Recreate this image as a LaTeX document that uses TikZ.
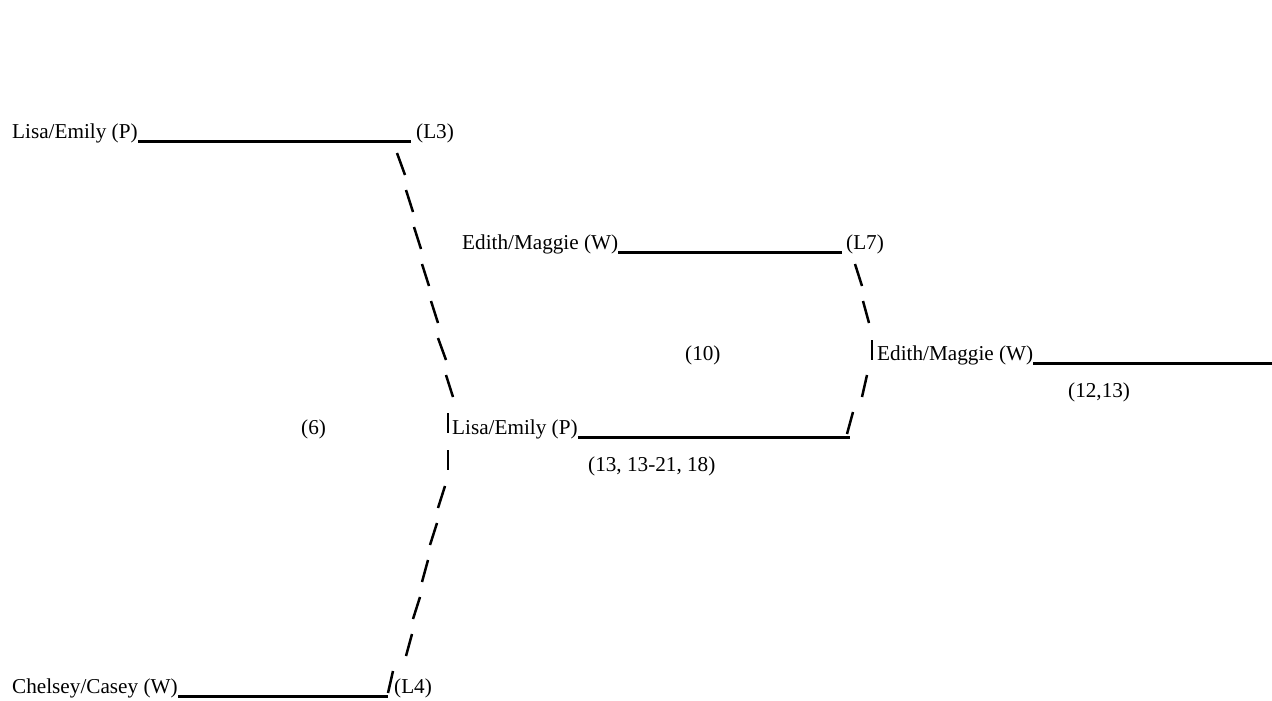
\documentclass[tikz,border=0pt]{standalone}
\usepackage{fontspec}
\setmainfont{Liberation Serif}
\begin{document}
\begin{tikzpicture}[x=1pt,y=-1pt,
  lbl/.style={anchor=base west,inner sep=0pt,font=\fontsize{21.2}{25}\selectfont},
  uline/.style={line width=3pt},
  stroke/.style={line width=2.5pt}]
\useasboundingbox (0,0) rectangle (1272,701);
% texts
\node[lbl] (t0) at (12,138.5) {Lisa/Emily (P)};
\node[lbl] (l3) at (416,138.5) {(L3)};
\node[lbl] (t3) at (462,249.5) {Edith/Maggie (W)};
\node[lbl] (l7) at (846,249.5) {(L7)};
\node[lbl] (t6) at (877,360.5) {Edith/Maggie (W)};
\node[lbl] (s10) at (685,360.5) {(10)};
\node[lbl] (s1213) at (1068,397.5) {(12,13)};
\node[lbl] (s6) at (301,434.5) {(6)};
\node[lbl] (t8) at (452,434.5) {Lisa/Emily (P)};
\node[lbl] (s13) at (588,471.5) {(13, 13-21, 18)};
\node[lbl] (t15) at (12,693.5) {Chelsey/Casey (W)};
\node[lbl] (l4) at (394,693.5) {(L4)};
% underline ends
\coordinate (u0) at (411,141);
\coordinate (u3) at (842,252);
\coordinate (u6) at (1272,363);
\coordinate (u8) at (850,437);
\coordinate (u15) at (388,696);
\draw[uline] ([yshift=-2.5pt]t0.base east) -- (u0);
\draw[uline] ([yshift=-2.5pt]t3.base east) -- (u3);
\draw[uline] ([yshift=-2.5pt]t6.base east) -- (u6);
\draw[uline] ([yshift=-2.5pt]t8.base east) -- (u8);
\draw[uline] ([yshift=-2.5pt]t15.base east) -- (u15);
% left chain
\draw[stroke] (397,153) -- (405,175);
\draw[stroke] (406,190) -- (413,212);
\draw[stroke] (414,227) -- (421,249);
\draw[stroke] (422,264) -- (429,286);
\draw[stroke] (431,301) -- (438,323);
\draw[stroke] (438,338) -- (446,360);
\draw[stroke] (446,375) -- (453,397);
\draw[stroke] (448,413) -- (448,433);
\draw[stroke] (448,450) -- (448,470);
\draw[stroke] (445,486) -- (438,508);
\draw[stroke] (437,523) -- (430,545);
\draw[stroke] (428,560) -- (422,582);
\draw[stroke] (420,597) -- (413,619);
\draw[stroke] (412,634) -- (406,656);
\draw[stroke] (393,671) -- (388,693);
% right chain
\draw[stroke] (855,264) -- (862,286);
\draw[stroke] (863,301) -- (869,323);
\draw[stroke] (872,340) -- (872,360);
\draw[stroke] (867,375) -- (862,397);
\draw[stroke] (853,412) -- (847,434);
\end{tikzpicture}
\end{document}
